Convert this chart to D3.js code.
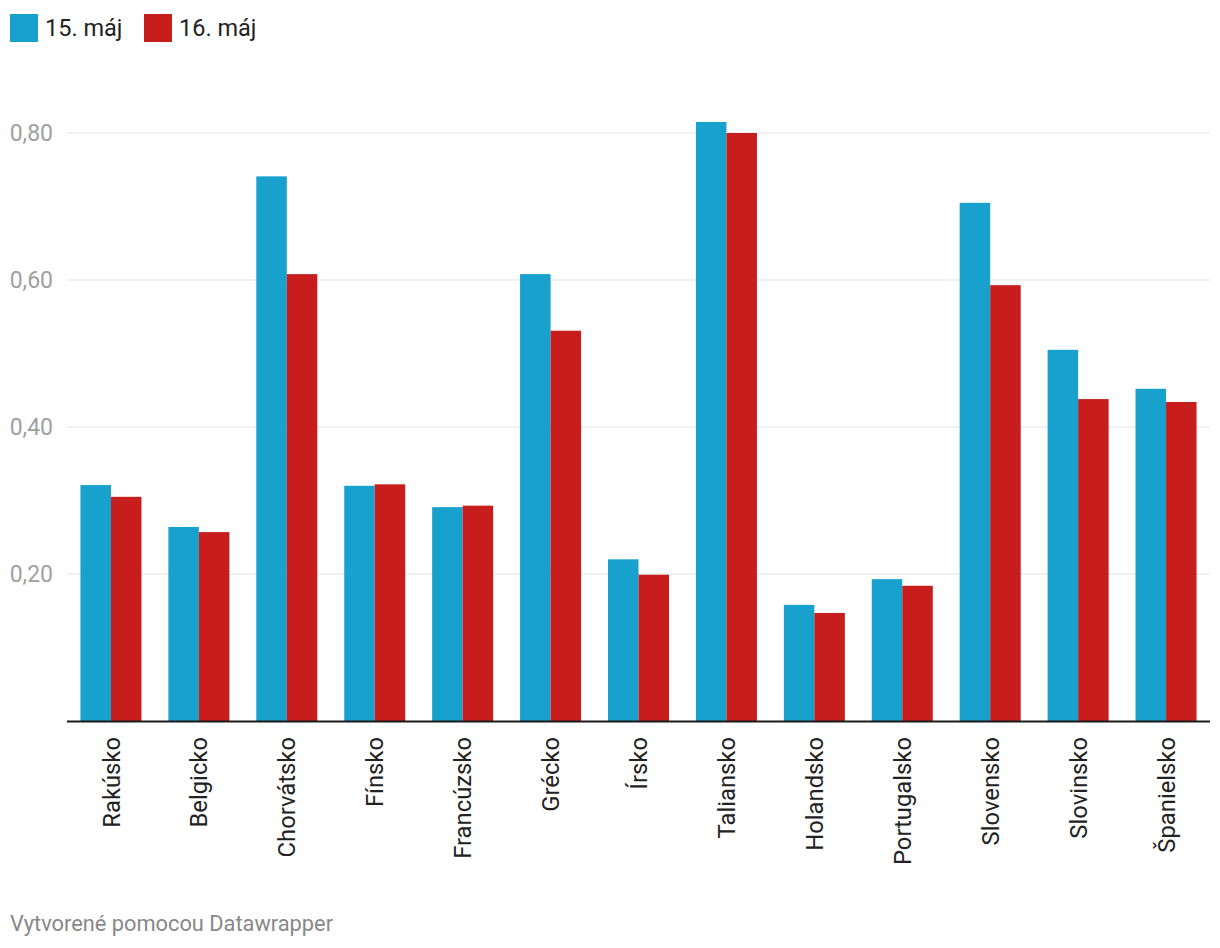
<!DOCTYPE html>
<html>
<head>
<meta charset="utf-8">
<script src="https://cdn.jsdelivr.net/npm/d3@7"></script>
<style>
  body { margin: 0; background: #fff; font-family: Roboto, "Noto Sans", sans-serif; }
</style>
</head>
<body>
<svg width="1220" height="948"></svg>
<script>
// data
var countries = ["Rakúsko", "Belgicko", "Chorvátsko", "Fínsko", "Francúzsko", "Grécko", "Írsko",
                 "Taliansko", "Holandsko", "Portugalsko", "Slovensko", "Slovinsko", "Španielsko"];
var seriesNames = ["15. máj", "16. máj"];
var may15 = [0.321, 0.264, 0.741, 0.320, 0.291, 0.608, 0.220, 0.815, 0.158, 0.193, 0.705, 0.505, 0.452];
var may16 = [0.305, 0.257, 0.608, 0.322, 0.293, 0.531, 0.199, 0.800, 0.147, 0.184, 0.593, 0.438, 0.434];
var yTicks = [0.2, 0.4, 0.6, 0.8];
var colors = ["#18a1cd", "#c71e1d"];

var svg = d3.select("svg"),
    margin = {top: 100, right: 10, bottom: 227, left: 67},
    width = +svg.attr("width") - margin.left - margin.right,
    height = +svg.attr("height") - margin.top - margin.bottom;

var rows = countries.map(function(c, i) { return {country: c, values: [may15[i], may16[i]]}; });

var x = d3.scaleBand()
    .domain(countries)
    .range([0, width])
    .paddingInner(0.306)
    .paddingOuter(0.153);

var x1 = d3.scaleBand()
    .domain([0, 1])
    .range([0, x.bandwidth()]);

var y = d3.scaleLinear()
    .domain([0, 0.8])
    .range([height, height - 588]);

var g = svg.append("g")
    .attr("transform", "translate(" + margin.left + "," + margin.top + ")");

// gridlines
g.append("g")
    .selectAll("line")
    .data(yTicks)
    .enter().append("line")
    .attr("x1", 0)
    .attr("x2", width)
    .attr("y1", function(d) { return y(d); })
    .attr("y2", function(d) { return y(d); })
    .style("stroke", "#e3e3e3")
    .style("stroke-width", 1);

// y labels
var fmt = d3.format(".2f");
g.append("g")
    .selectAll("text")
    .data(yTicks)
    .enter().append("text")
    .attr("x", -14)
    .attr("y", function(d) { return y(d); })
    .attr("dy", "0.36em")
    .style("text-anchor", "end")
    .style("font-size", "23px")
    .style("fill", "#a0a0a0")
    .text(function(d) { return fmt(d).replace(".", ","); });

// bars
var groups = g.append("g")
    .selectAll("g")
    .data(rows)
    .enter().append("g")
    .attr("transform", function(d) { return "translate(" + x(d.country) + ",0)"; });

groups.selectAll("rect")
    .data(function(d) { return d.values; })
    .enter().append("rect")
    .attr("x", function(d, i) { return x1(i); })
    .attr("width", x1.bandwidth())
    .attr("y", function(d) { return y(d); })
    .attr("height", function(d) { return height - y(d); })
    .attr("fill", function(d, i) { return colors[i]; });

// baseline
g.append("line")
    .attr("x1", 0)
    .attr("x2", width)
    .attr("y1", height + 0.5)
    .attr("y2", height + 0.5)
    .style("stroke", "#1a1a1a")
    .style("stroke-width", 2);

// x labels, rotated
g.append("g")
    .selectAll("text")
    .data(countries)
    .enter().append("text")
    .attr("transform", function(d) {
        return "translate(" + (x(d) + x.bandwidth() / 2) + "," + (height + 16) + ") rotate(-90)";
    })
    .attr("dy", "0.36em")
    .style("text-anchor", "end")
    .style("font-size", "23.8px")
    .style("fill", "#222")
    .text(function(d) { return d; });

// legend
var legendX = [10, 144];
var legend = svg.append("g");
seriesNames.forEach(function(name, i) {
    legend.append("rect")
        .attr("x", legendX[i])
        .attr("y", 14)
        .attr("width", 28)
        .attr("height", 28)
        .attr("fill", colors[i]);
    legend.append("text")
        .attr("x", legendX[i] + 35)
        .attr("y", 28)
        .attr("dy", "0.36em")
        .style("font-size", "23.5px")
        .style("fill", "#222")
        .text(name);
});

// footer
svg.append("text")
    .attr("x", 10)
    .attr("y", 931)
    .style("font-size", "21.8px")
    .style("fill", "#888")
    .text("Vytvorené pomocou Datawrapper");
</script>
</body>
</html>
